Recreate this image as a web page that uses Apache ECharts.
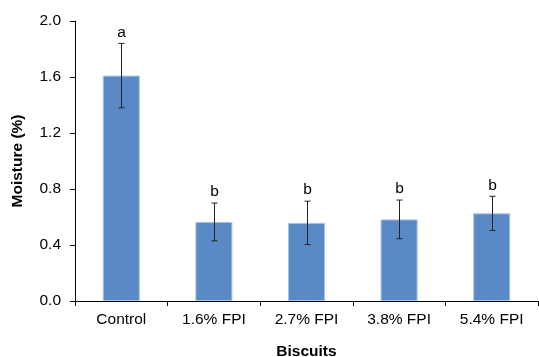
<!DOCTYPE html>
<html><head><meta charset="utf-8">
<script src="https://cdn.jsdelivr.net/npm/echarts@6/dist/echarts.min.js"></script>
<style>html,body{margin:0;padding:0;background:#fff}#c{width:539px;height:357px}</style>
</head><body><div id="c"></div>
<script>
const categories = ['Control', '1.6% FPI', '2.7% FPI', '3.8% FPI', '5.4% FPI'];
const moisture = [1.61, 0.565, 0.558, 0.583, 0.626];
const errors = [0.23, 0.135, 0.155, 0.138, 0.122];
const letters = ['a', 'b', 'b', 'b', 'b'];
const yTicks = [0, 0.4, 0.8, 1.2, 1.6, 2.0];

const font = 'Liberation Sans, Arial, sans-serif';
const chart = echarts.init(document.getElementById('c'), null, {renderer: 'canvas'});
chart.setOption({
  animation: false,
  grid: {left: 75, right: 1, top: 21, bottom: 56, containLabel: false, outerBoundsMode: 'none'},
  xAxis: {
    type: 'category', data: categories,
    name: 'Biscuits', nameLocation: 'middle', nameGap: 43,
    nameTextStyle: {fontFamily: font, fontSize: 15.5, fontWeight: 'bold', color: '#000'},
    axisLine: {lineStyle: {color: '#000', width: 1}},
    axisTick: {show: true, alignWithLabel: false, length: 5, lineStyle: {color: '#000'}},
    axisLabel: {fontFamily: font, fontSize: 15.5, color: '#000', margin: 11}
  },
  yAxis: {
    type: 'value', min: yTicks[0], max: yTicks[yTicks.length - 1], interval: 0.4,
    name: 'Moisture (%)', nameLocation: 'middle', nameGap: 49, nameRotate: 90,
    nameTextStyle: {fontFamily: font, fontSize: 15.5, fontWeight: 'bold', color: '#000'},
    axisLine: {show: true, lineStyle: {color: '#000', width: 1}},
    axisTick: {show: true, length: 5, inside: false, lineStyle: {color: '#000'}},
    splitLine: {show: false},
    axisLabel: {fontFamily: font, fontSize: 15.5, color: '#000', margin: 14,
      formatter: v => v.toFixed(1)}
  },
  series: [
    {
      type: 'bar', data: moisture, barWidth: '40%',
      itemStyle: {color: '#5A8AC6', borderColor: '#A8C3E6', borderWidth: 1}
    },
    {
      type: 'custom',
      data: categories.map((c, i) => [i, moisture[i] - errors[i], moisture[i] + errors[i], letters[i]]),
      encode: {x: 0, y: [1, 2]},
      z: 10,
      renderItem: function (params, api) {
        const lo = api.coord([api.value(0), api.value(1)]);
        const hi = api.coord([api.value(0), api.value(2)]);
        const x = Math.round(lo[0]) + 0.5;
        const cap = 3;
        const style = {stroke: '#222', lineWidth: 1};
        return {
          type: 'group',
          children: [
            {type: 'line', shape: {x1: x, y1: hi[1], x2: x, y2: lo[1]}, style: style},
            {type: 'line', shape: {x1: x - cap, y1: hi[1], x2: x + cap, y2: hi[1]}, style: style},
            {type: 'line', shape: {x1: x - cap, y1: lo[1], x2: x + cap, y2: lo[1]}, style: style},
            {type: 'text', x: x, y: hi[1] - 3, style: {text: api.value(3), fill: '#000',
              font: '15.5px ' + font, textAlign: 'center', textVerticalAlign: 'bottom'}}
          ]
        };
      }
    }
  ]
});
</script></body></html>
